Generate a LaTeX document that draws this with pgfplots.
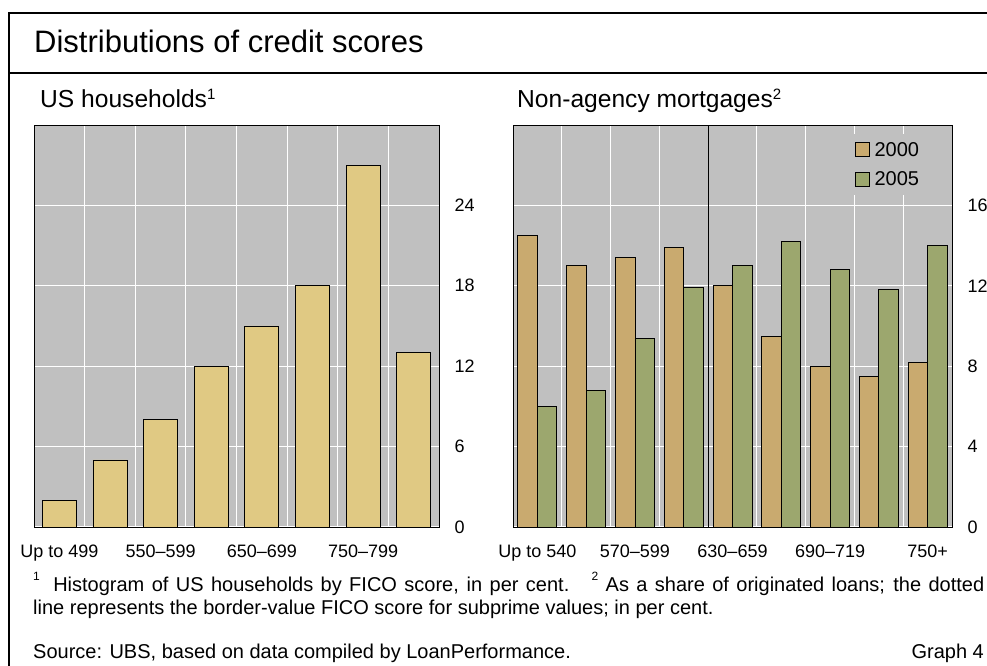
\documentclass[border=0pt]{standalone}
\usepackage{fontspec}
\setmainfont{Liberation Sans}
\usepackage{pgfplots}
\pgfplotsset{compat=1.18}
\definecolor{bg}{HTML}{C0C0C0}
\definecolor{lbar}{HTML}{E0C983}
\definecolor{bOne}{HTML}{C9AA6F}
\definecolor{bTwo}{HTML}{9CA76E}
\newcommand{\fsup}[1]{\raisebox{11pt}{\fontsize{12}{12}\selectfont #1}}
\newcommand{\tsup}[1]{\raisebox{8pt}{\fontsize{15}{15}\selectfont #1}}
\pgfplotsset{
 mystyle/.style={
  scale only axis, height=402pt,
  ymin=0, xmin=0.5,
  axis background/.style={fill=bg},
  axis line style={black, line width=0.8pt},
  ymajorgrids, xminorgrids, xmajorgrids=false,
  major grid style={white, line width=1pt},
  minor grid style={white, line width=1pt},
  yticklabel pos=right,
  tick style={draw=none},
  minor tick style={draw=none},
  /pgf/number format/assume math mode=true,
  ticklabel style={font=\fontsize{18}{20}\selectfont},
  yticklabel style={anchor=west, xshift=12pt},
  xticklabel style={yshift=-10pt},
 }
}
\begin{document}
\begin{tikzpicture}
\useasboundingbox (0,0) rectangle (987pt,666pt);
% frame
\draw[line width=2pt] (9pt,-5pt) -- (9pt,653pt) -- (1000pt,653pt);
\draw[line width=2pt] (9pt,593pt) -- (1000pt,593pt);
\node[anchor=base west, inner sep=0, font=\fontsize{31}{35}\selectfont] at (34pt,613pt) {Distributions of credit scores};
\node[anchor=base west, inner sep=0, font=\fontsize{24.6}{28}\selectfont] at (40pt,558pt) {US households\tsup{1}};
\node[anchor=base west, inner sep=0, font=\fontsize{24.6}{28}\selectfont] at (517pt,558pt) {Non-agency mortgages\tsup{2}};

\begin{axis}[mystyle, at={(34pt,139pt)}, anchor=south west, width=405pt,
  xmax=8.5, ymax=30, ytick={0,6,12,18,24},
  xtick={1,3,5,7}, xticklabels={Up to 499, 550--599, 650--699, 750--799},
  minor xtick={1.5,2.5,3.5,4.5,5.5,6.5,7.5},
  ybar, bar width=34pt]
\addplot[fill=lbar, draw=black, line width=0.8pt] coordinates {(1,2) (2,5) (3,8) (4,12) (5,15) (6,18) (7,27) (8,13)};
\end{axis}

\begin{axis}[mystyle, at={(513pt,139pt)}, anchor=south west, width=439pt,
  xmax=9.5, ymax=20, ytick={0,4,8,12,16},
  xtick={1,3,5,7,9}, xticklabels={Up to 540, 570--599, 630--659, 690--719, 750+},
  minor xtick={1.5,2.5,3.5,5.5,6.5,7.5,8.5},
  ybar=0pt, bar width=19.5pt,
  legend style={at={(0.762,0.978)}, anchor=north west, fill=bg, draw=none,
    font=\fontsize{20}{22}\selectfont, row sep=12pt, inner sep=7pt,
    nodes={inner sep=1pt},
    /tikz/every odd column/.append style={column sep=4pt}},
  legend image code/.code={\draw[#1] (0pt,-7pt) rectangle (14pt,7pt);}]
\addplot[fill=bOne, draw=black, line width=0.8pt] coordinates {(1,14.5) (2,13.0) (3,13.4) (4,13.9) (5,12.0) (6,9.5) (7,8.0) (8,7.5) (9,8.2)};
\addplot[fill=bTwo, draw=black, line width=0.8pt] coordinates {(1,6.0) (2,6.8) (3,9.4) (4,11.9) (5,13.0) (6,14.2) (7,12.8) (8,11.8) (9,14.0)};
\legend{2000,2005}
\draw[black, line width=0.8pt] (axis cs:4.5,0) -- (axis cs:4.5,20);
\end{axis}

\node[anchor=base west, inner sep=0, font=\fontsize{20}{22}\selectfont] at (33pt,74pt)
 {\makebox[951pt][s]{\fsup{1}\hspace{6pt}\ Histogram of US households by FICO score, in per cent.\ \ \ \fsup{2}\ As a share of originated loans; the dotted}};
\node[anchor=base west, inner sep=0, font=\fontsize{20}{22}\selectfont] at (33pt,51pt)
 {line represents the border-value FICO score for subprime values; in per cent.};
\node[anchor=base west, inner sep=0, font=\fontsize{20}{22}\selectfont] at (33pt,7pt)
 {Source: UBS, based on data compiled by LoanPerformance.};
\node[anchor=base east, inner sep=0, font=\fontsize{20}{22}\selectfont] at (984pt,7pt)
 {Graph 4};
\end{tikzpicture}
\end{document}
